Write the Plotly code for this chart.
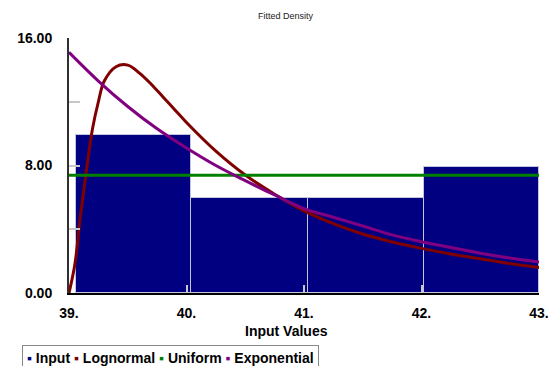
import plotly.graph_objects as go

# ---- data ----
bin_edges = [39.06, 40.04, 41.03, 42.02, 43.0]
input_density = [9.9, 5.93, 5.93, 7.92]

lognormal_x = [39.0, 39.05, 39.1, 39.15, 39.2, 39.25, 39.3, 39.4, 39.5, 39.6, 39.7, 39.8, 39.9,
               40.0, 40.25, 40.5, 40.75, 41.0, 41.25, 41.5, 41.75, 42.0, 42.25, 42.5, 42.75, 43.0]
lognormal_y = [0.0, 1.8, 5.0, 7.8, 10.3, 12.0, 13.3, 14.2, 14.3, 13.8, 13.1, 12.3, 11.5,
               10.7, 8.9, 7.4, 6.2, 5.15, 4.35, 3.7, 3.2, 2.8, 2.45, 2.15, 1.85, 1.6]

uniform_x = [39.0, 43.0]
uniform_y = [7.39, 7.39]

expon_x = [39.0, 39.25, 39.5, 39.75, 40.0, 40.25, 40.5, 40.75, 41.0, 41.25, 41.5, 41.75,
           42.0, 42.25, 42.5, 42.75, 43.0]
expon_y = [15.1, 13.3, 11.7, 10.3, 9.1, 8.0, 7.05, 6.15, 5.3, 4.75, 4.2, 3.65,
           3.22, 2.85, 2.5, 2.2, 1.95]

x_ticks = [39, 40, 41, 42, 43]
x_tick_text = ["39.", "40.", "41.", "42.", "43."]
y_ticks = [0, 4, 8, 12, 16]
y_tick_text = ["0.00", "", "8.00", "", "16.00"]

series_names = ["Input", "Lognormal", "Uniform", "Exponential"]
series_colors = ["#000080", "#800000", "#008000", "#800080"]

FONT = "Arial, Liberation Sans, sans-serif"

bar_x = [(bin_edges[i] + bin_edges[i + 1]) / 2 for i in range(len(input_density))]
bar_w = [bin_edges[i + 1] - bin_edges[i] for i in range(len(input_density))]

fig = go.Figure()
fig.add_trace(go.Bar(x=bar_x, y=input_density, width=bar_w, name=series_names[0],
                     marker=dict(color=series_colors[0], line=dict(color="#c4c4dc", width=1))))
fig.add_trace(go.Scatter(x=lognormal_x, y=lognormal_y, mode="lines", name=series_names[1],
                         line=dict(color=series_colors[1], width=3, shape="spline")))
fig.add_trace(go.Scatter(x=uniform_x, y=uniform_y, mode="lines", name=series_names[2],
                         line=dict(color=series_colors[2], width=3)))
fig.add_trace(go.Scatter(x=expon_x, y=expon_y, mode="lines", name=series_names[3],
                         line=dict(color=series_colors[3], width=3, shape="spline")))

legend_text = " ".join(
    f"<span style='color:{c}'>▪</span> {n}" for n, c in zip(series_names, series_colors)
)

L, R, T, B = 69, 15, 38, 73
W, H = 554, 366
plot_w = W - L - R
plot_h = H - T - B


def px_to_paper(px, py):
    return (px - L) / plot_w, (H - B - py) / plot_h


tx, ty = px_to_paper(286, 16)
ax_, ay_ = px_to_paper(286, 331)
lx, ly = px_to_paper(22, 345)

fig.update_layout(
    width=W, height=H,
    margin=dict(l=L, r=R, t=T, b=B),
    plot_bgcolor="white", paper_bgcolor="white",
    showlegend=False,
    bargap=0,
    font=dict(family=FONT, color="black"),
    xaxis=dict(range=[39, 43], tickvals=x_ticks, ticktext=x_tick_text,
               ticks="inside", ticklen=8, tickcolor="#c8c8c8", tickwidth=2,
               showgrid=False, zeroline=False, automargin=False,
               showline=True, linecolor="black", linewidth=2,
               tickfont=dict(size=14, weight="bold", family=FONT), ticklabelstandoff=6),
    yaxis=dict(range=[0, 16], tickvals=y_ticks, ticktext=y_tick_text,
               ticks="inside", ticklen=11, tickcolor="#c8c8c8", tickwidth=2,
               showgrid=False, zeroline=False, automargin=False,
               showline=True, linecolor="#303030", linewidth=2,
               tickfont=dict(size=14, weight="bold", family=FONT), ticklabelstandoff=12),
    annotations=[
        dict(text="Fitted Density", x=tx, y=ty, xref="paper", yref="paper",
             yanchor="middle", showarrow=False, font=dict(size=9, color="#222", family=FONT)),
        dict(text="Input Values", x=ax_, y=ay_, xref="paper", yref="paper",
             yanchor="middle", showarrow=False, font=dict(size=14, weight="bold", family=FONT)),
        dict(text=legend_text, x=lx, y=ly, xref="paper", yref="paper",
             xanchor="left", yanchor="top", showarrow=False,
             bordercolor="#888", borderwidth=1, borderpad=4,
             font=dict(size=14, weight="bold", family=FONT)),
    ],
)

fig.write_html("out.html",
               config={"displayModeBar": False},
               post_script="document.body.style.margin='0';document.body.style.overflow='hidden';")
